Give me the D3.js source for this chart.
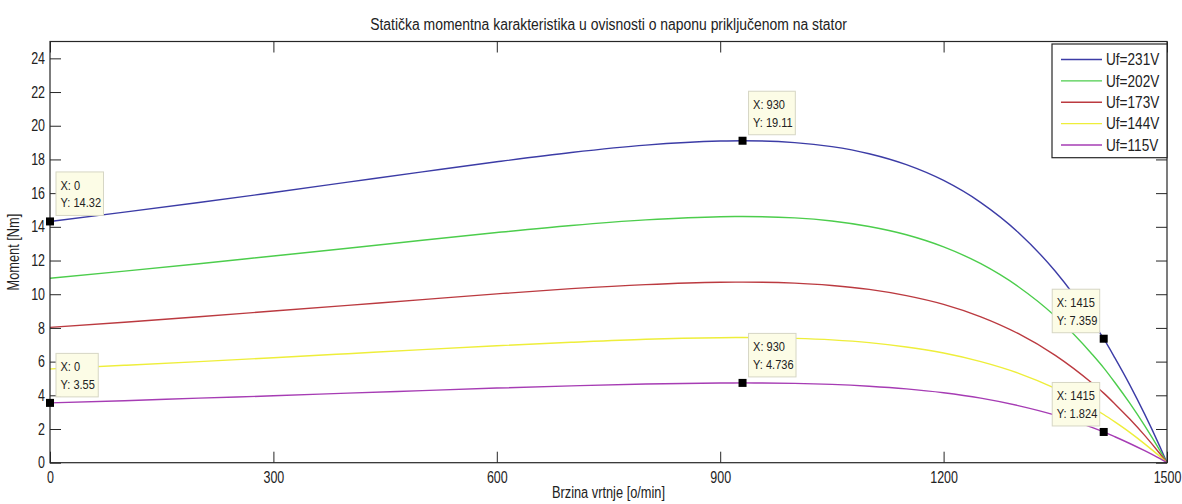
<!DOCTYPE html>
<html><head><meta charset="utf-8">
<script src="https://cdn.jsdelivr.net/npm/d3@7"></script>
<style>
html,body{margin:0;padding:0;background:#fff;}
svg{display:block;font-family:"Liberation Sans",Arial,sans-serif;}
</style></head>
<body>
<svg id="chart" width="1182" height="504"></svg>
<script>
// ---- data ----
const speed = [0,100,200,300,400,500,600,700,800,900,930,1000,1050,1100,1150,1200,1250,1300,1350,1400,1415,1430,1450,1470,1490,1500];
const uf231 = [14.32,14.87,15.44,16.04,16.65,17.26,17.86,18.41,18.85,19.09,19.11,19.00,18.76,18.34,17.69,16.75,15.44,13.68,11.36,8.38,7.359,6.22,4.62,2.88,1.00,0];
const uf202 = [10.95,11.37,11.81,12.27,12.73,13.20,13.66,14.08,14.41,14.60,14.61,14.53,14.35,14.02,13.53,12.81,11.81,10.46,8.69,6.41,5.63,4.76,3.53,2.20,0.76,0];
const uf173 = [8.03,8.34,8.66,9.00,9.34,9.68,10.02,10.33,10.57,10.71,10.72,10.66,10.52,10.29,9.92,9.40,8.66,7.67,6.37,4.70,4.13,3.49,2.59,1.62,0.56,0];
const uf144 = [5.565,5.78,6.00,6.23,6.47,6.71,6.94,7.15,7.33,7.42,7.43,7.38,7.29,7.13,6.87,6.51,6.00,5.32,4.41,3.26,2.86,2.42,1.80,1.12,0.39,0];
const uf115 = [3.55,3.68,3.83,3.97,4.13,4.28,4.43,4.56,4.67,4.73,4.736,4.71,4.65,4.54,4.38,4.15,3.83,3.39,2.82,2.08,1.824,1.54,1.14,0.71,0.25,0];
const seriesNames = ["Uf=231V","Uf=202V","Uf=173V","Uf=144V","Uf=115V"];
const seriesColors = ["#3c3ca6","#4ccd4c","#bb3a40","#eeee3a","#a63cb4"];
const xTicks = [0,300,600,900,1200,1500];
const yTicks = [0,2,4,6,8,10,12,14,16,18,20,22,24];
// data tips: series index, speed, placement
const tipSeries = [0,0,0,4,4,4];
const tipSpeed  = [0,930,1415,0,930,1415];
const tipSide   = ["r","r","l","r","r","l"];
const titleText = "Statička momentna karakteristika u ovisnosti o naponu priključenom na stator";
const xLabel = "Brzina vrtnje [o/min]";
const yLabel = "Moment [Nm]";

const allSeries = [uf231,uf202,uf173,uf144,uf115];

// ---- layout ----
const L = 50, R = 1167, T = 41.5, B = 462.7;
const svg = d3.select("#chart");
const x = d3.scaleLinear().domain([0,1500]).range([L,R]);
const y = d3.scaleLinear().domain([0,25]).range([B,T]);
const axisColor = "#262626";
const TICK = 11;

function squeeze(sel, f){ sel.each(function(){ const el=d3.select(this); const w=this.getComputedTextLength(); el.attr("textLength", w*f).attr("lengthAdjust","spacingAndGlyphs"); }); }

// lines
const line = d3.line().x((d,i)=>x(speed[i])).y(d=>y(d)).curve(d3.curveMonotoneX);
svg.append("g").selectAll("path").data(allSeries).join("path")
  .attr("d", d=>line(d)).attr("fill","none")
  .attr("stroke",(d,i)=>seriesColors[i]).attr("stroke-width",1.4);

// axes
function styleAxis(g){ g.select(".domain").remove(); g.selectAll("line").attr("stroke",axisColor); g.selectAll("text").attr("fill","#222").attr("font-size",16); }
const gx = svg.append("g").attr("transform",`translate(0,${B})`)
  .call(d3.axisBottom(x).tickValues(xTicks).tickSizeInner(-TICK).tickSizeOuter(0).tickPadding(4).tickFormat(d3.format("d")));
styleAxis(gx);
gx.selectAll(".tick text").attr("transform","scale(0.78,1)").attr("dy","1.0em");
const gxt = svg.append("g").attr("transform",`translate(0,${T})`)
  .call(d3.axisTop(x).tickValues(xTicks).tickSizeInner(-TICK).tickSizeOuter(0).tickFormat(""));
styleAxis(gxt);
const gy = svg.append("g").attr("transform",`translate(${L},0)`)
  .call(d3.axisLeft(y).tickValues(yTicks).tickSizeInner(-TICK).tickSizeOuter(0).tickPadding(0).tickFormat(d3.format("d")));
styleAxis(gy);
gy.selectAll(".tick text").attr("x",-5/0.78).attr("transform","scale(0.78,1)");
const gyr = svg.append("g").attr("transform",`translate(${R},0)`)
  .call(d3.axisRight(y).tickValues(yTicks).tickSizeInner(-TICK).tickSizeOuter(0).tickFormat(""));
styleAxis(gyr);
svg.append("rect").attr("x",L).attr("y",T).attr("width",R-L).attr("height",B-T)
  .attr("fill","none").attr("stroke",axisColor).attr("stroke-width",1.2);

// title and labels
const tt = svg.append("text").attr("x",(L+R)/2).attr("y",30).attr("text-anchor","middle")
  .attr("font-size",16).attr("fill","#222").text(titleText);
squeeze(tt,0.87);
const xl = svg.append("text").attr("x",(L+R)/2).attr("y",498).attr("text-anchor","middle")
  .attr("font-size",16).attr("fill","#222").text(xLabel);
squeeze(xl,0.8);
const yl = svg.append("text").attr("transform",`translate(19,${(T+B)/2}) rotate(-90)`).attr("text-anchor","middle")
  .attr("font-size",16).attr("fill","#222").text(yLabel);
squeeze(yl,0.8);

// data tips
const tips = tipSeries.map((s,k)=>{ const i = speed.indexOf(tipSpeed[k]); return {n:speed[i], v:allSeries[s][i], side:tipSide[k]}; });
const tg = svg.append("g").selectAll("g").data(tips).join("g");
tg.each(function(d){
  const g = d3.select(this);
  const px = x(d.n), py = y(d.v);
  const box = g.append("rect");
  const t1 = g.append("text").attr("font-size",13).attr("fill","#222").text("X: "+d.n);
  const t2 = g.append("text").attr("font-size",13).attr("fill","#222").text("Y: "+d.v);
  squeeze(t1,0.85); squeeze(t2,0.85);
  const w = Math.max(t1.node().getComputedTextLength(), t2.node().getComputedTextLength())*0.85 + 13;
  const h = 43.5;
  const bx = d.side==="r" ? px+6 : px-4-w;
  const by = py-6-h;
  box.attr("x",bx).attr("y",by).attr("width",w).attr("height",h)
    .attr("fill","#fcfce6").attr("stroke","#d6d6c4").attr("stroke-width",1);
  t1.attr("x",bx+4.5).attr("y",by+18);
  t2.attr("x",bx+4.5).attr("y",by+35.5);
  g.append("rect").attr("x",px-4).attr("y",py-4).attr("width",8).attr("height",8).attr("fill","#000");
});

// legend
const lg = svg.append("g");
const lx0 = 1052, ly0 = 44, lw = R-1052, lh = 113.7;
lg.append("rect").attr("x",lx0).attr("y",ly0).attr("width",lw).attr("height",lh)
  .attr("fill","#fff").attr("stroke",axisColor).attr("stroke-width",1.2);
const ly = d3.scalePoint().domain(seriesNames).range([59.5,145]);
seriesNames.forEach((nm,i)=>{
  lg.append("line").attr("x1",1061).attr("x2",1102).attr("y1",ly(nm)).attr("y2",ly(nm))
    .attr("stroke",seriesColors[i]).attr("stroke-width",1.4);
  const t = lg.append("text").attr("x",1106).attr("y",ly(nm)).attr("dy","0.36em")
    .attr("font-size",16).attr("fill","#222").text(nm);
  squeeze(t,0.85);
});
</script>
</body></html>
